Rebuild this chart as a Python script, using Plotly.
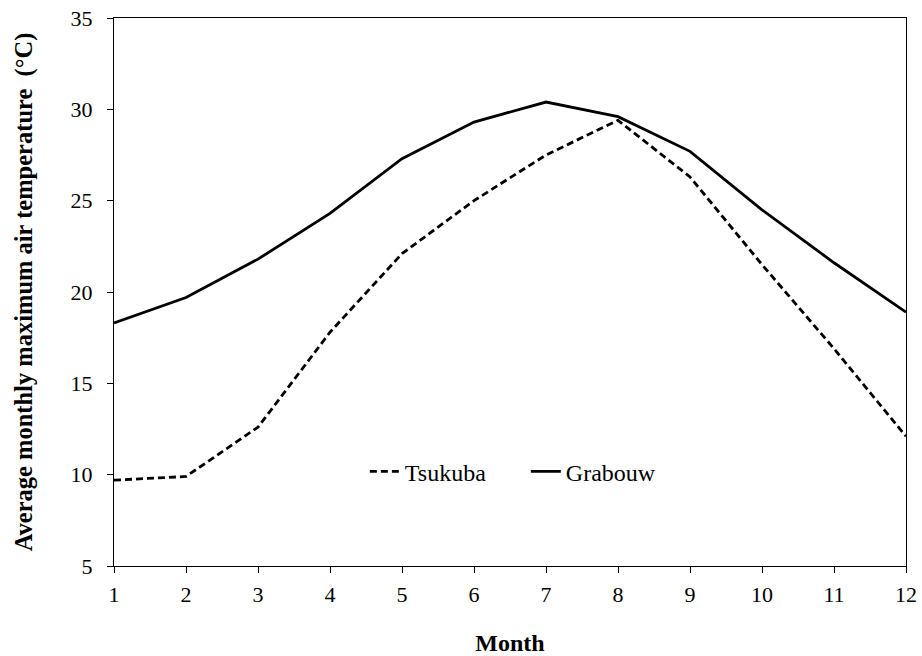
import plotly.graph_objects as go

months = [1, 2, 3, 4, 5, 6, 7, 8, 9, 10, 11, 12]
tsukuba = [9.7, 9.9, 12.6, 17.8, 22.1, 25.0, 27.5, 29.4, 26.3, 21.5, 16.9, 12.1]
grabouw = [18.3, 19.7, 21.8, 24.3, 27.3, 29.3, 30.4, 29.6, 27.7, 24.5, 21.6, 18.9]
y_ticks = [5, 10, 15, 20, 25, 30, 35]

font_family = "Liberation Serif"

fig = go.Figure()
fig.add_trace(go.Scatter(x=months, y=tsukuba, mode="lines", name="Tsukuba",
                         line=dict(color="black", width=2.8, dash="7px,4px")))
fig.add_trace(go.Scatter(x=months, y=grabouw, mode="lines", name="Grabouw",
                         line=dict(color="black", width=2.8)))

fig.update_layout(
    width=922, height=656,
    margin=dict(l=114, r=16, t=18, b=90),
    paper_bgcolor="white", plot_bgcolor="white",
    font=dict(family=font_family, size=22, color="black"),
    showlegend=True,
    legend=dict(orientation="h", x=0.52, y=0.172, xanchor="center", yanchor="middle",
                bgcolor="rgba(0,0,0,0)", font=dict(size=24, family=font_family),
                entrywidth=116, entrywidthmode="pixels",
                traceorder="normal"),
    xaxis=dict(range=[1, 12], tickvals=months, ticks="outside", ticklen=6,
               tickcolor="black", showline=True, linecolor="black", linewidth=1.3,
               mirror=True, showgrid=False, zeroline=False, automargin=False,
               ticklabelstandoff=2, ticklabeloverflow="allow",
               title=dict(text="<b>Month</b>", standoff=31, font=dict(size=24))),
    yaxis=dict(range=[5, 35], tickvals=y_ticks, ticks="outside", ticklen=6,
               tickcolor="black", showline=True, linecolor="black", linewidth=1.3,
               mirror=True, showgrid=False, zeroline=False, automargin=False,
               ticklabelstandoff=10, ticklabeloverflow="allow",
               title=dict(text="<b>Average monthly maximum air temperature  (°C)</b>",
                          standoff=30, font=dict(size=24.5))),
)

fig.write_html("out.html", config={"displayModeBar": False},
               post_script="document.body.style.margin='0';")
